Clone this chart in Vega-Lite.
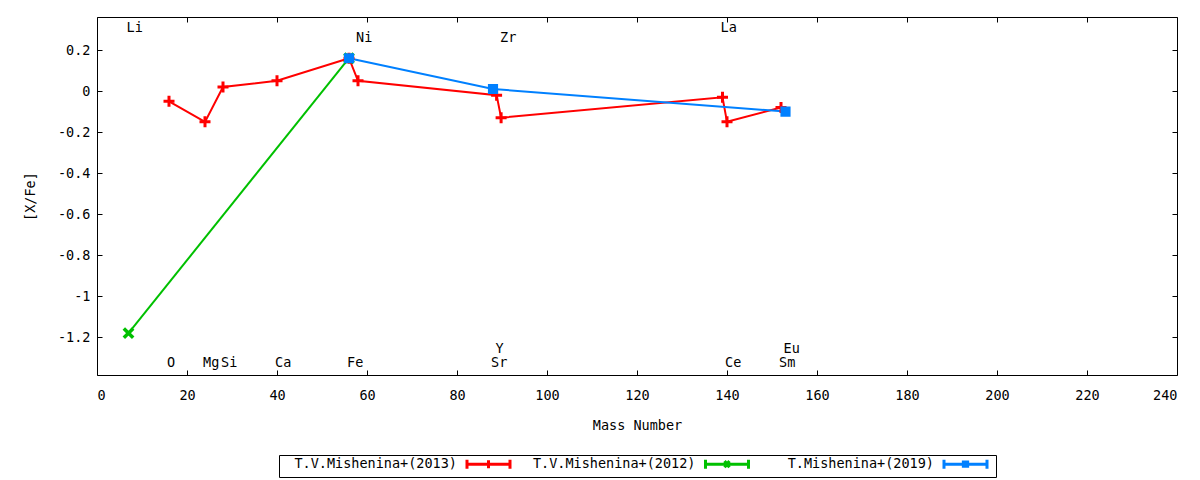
{
  "$schema": "https://vega.github.io/schema/vega-lite/v6.json",
  "width": 1080,
  "height": 358,
  "autosize": {"type": "none"},
  "padding": {"left": 97, "top": 17, "right": 23, "bottom": 105},
  "background": "white",
  "config": {
    "font": "DejaVu Sans Mono",
    "view": {"stroke": "black", "strokeWidth": 1},
    "axis": {
      "domain": false, "grid": false, "tickColor": "black", "tickSize": -5,
      "labelFont": "DejaVu Sans Mono", "labelFontSize": 13.5, "labelColor": "black",
      "titleFont": "DejaVu Sans Mono", "titleFontSize": 13.5, "titleFontWeight": "normal", "titleColor": "black"
    }
  },
  "datasets": {
    "series": [
      {"series": "T.V.Mishenina+(2013)", "el": "O", "x": 16, "y": -0.05},
      {"series": "T.V.Mishenina+(2013)", "el": "Mg", "x": 24, "y": -0.15},
      {"series": "T.V.Mishenina+(2013)", "el": "Si", "x": 28, "y": 0.02},
      {"series": "T.V.Mishenina+(2013)", "el": "Ca", "x": 40, "y": 0.05},
      {"series": "T.V.Mishenina+(2013)", "el": "Fe", "x": 56, "y": 0.16},
      {"series": "T.V.Mishenina+(2013)", "el": "Ni", "x": 58, "y": 0.05},
      {"series": "T.V.Mishenina+(2013)", "el": "Y", "x": 88.8, "y": -0.02},
      {"series": "T.V.Mishenina+(2013)", "el": "Zr", "x": 89.8, "y": -0.13},
      {"series": "T.V.Mishenina+(2013)", "el": "La", "x": 139, "y": -0.03},
      {"series": "T.V.Mishenina+(2013)", "el": "Ce", "x": 140, "y": -0.15},
      {"series": "T.V.Mishenina+(2013)", "el": "Eu", "x": 152, "y": -0.08},
      {"series": "T.V.Mishenina+(2012)", "el": "Li", "x": 7, "y": -1.18},
      {"series": "T.V.Mishenina+(2012)", "el": "Fe", "x": 56, "y": 0.16},
      {"series": "T.Mishenina+(2019)", "el": "Fe", "x": 56, "y": 0.16},
      {"series": "T.Mishenina+(2019)", "el": "Sr", "x": 88, "y": 0.01},
      {"series": "T.Mishenina+(2019)", "el": "Eu", "x": 153, "y": -0.1}
    ],
    "labels": [
      {"el": "Li", "x": 7, "y": 0.305},
      {"el": "La", "x": 139, "y": 0.305},
      {"el": "Ni", "x": 58, "y": 0.257},
      {"el": "Zr", "x": 90, "y": 0.257},
      {"el": "O", "x": 16, "y": -1.325},
      {"el": "Mg", "x": 24, "y": -1.325},
      {"el": "Si", "x": 28, "y": -1.325},
      {"el": "Ca", "x": 40, "y": -1.325},
      {"el": "Fe", "x": 56, "y": -1.325},
      {"el": "Sr", "x": 88, "y": -1.325},
      {"el": "Ce", "x": 140, "y": -1.325},
      {"el": "Sm", "x": 152, "y": -1.325},
      {"el": "Y", "x": 89, "y": -1.257},
      {"el": "Eu", "x": 153, "y": -1.257}
    ]
  },
  "layer": [
    {
      "data": {"name": "series"},
      "mark": {"type": "line", "strokeWidth": 2},
      "encoding": {
        "x": {
          "field": "x", "type": "quantitative",
          "scale": {"domain": [0, 240], "nice": false, "zero": false},
          "axis": {"orient": "bottom", "values": [0, 20, 40, 60, 80, 100, 120, 140, 160, 180, 200, 220, 240], "title": "Mass Number", "labelPadding": 18, "titlePadding": 17}
        },
        "y": {
          "field": "y", "type": "quantitative",
          "scale": {"domain": [-1.384, 0.361], "nice": false, "zero": false},
          "axis": {"orient": "left", "values": [-1.2, -1, -0.8, -0.6, -0.4, -0.2, 0, 0.2], "labelExpr": "'' + round(datum.value * 10) / 10", "title": "[X/Fe]", "labelPadding": 12, "titlePadding": 20}
        },
        "color": {
          "field": "series", "type": "nominal",
          "scale": {
            "domain": ["T.V.Mishenina+(2013)", "T.V.Mishenina+(2012)", "T.Mishenina+(2019)"],
            "range": ["#ff0000", "#00c000", "#0080ff"]
          },
          "legend": {
            "orient": "none", "legendX": 182, "legendY": 438, "direction": "horizontal", "title": null,
            "strokeColor": "black", "padding": 2, "columnPadding": 2.5,
            "labelFont": "DejaVu Sans Mono", "labelFontSize": 13.5, "labelColor": "black", "labelLimit": 300,
            "symbolSize": 115.6, "symbolStrokeWidth": 3,
            "encode": {
              "labels": {"update": {"x": {"value": 176}, "align": {"value": "right"}}},
              "symbols": {
                "update": {
                  "x": {"value": 207.5},
                  "size": {"value": 115.6},
                  "opacity": {"value": 1},
                  "fill": {"value": "transparent"},
                  "stroke": {"scale": "color", "field": "value"},
                  "strokeWidth": {"value": 3},
                  "shape": {"signal": "datum.value === 'T.Mishenina+(2019)' ? 'M-4,-0.85V0.85M-4,0H4M4,-0.85V0.85M-0.4,-0.4H0.4V0.4H-0.4Z' : datum.value === 'T.V.Mishenina+(2012)' ? 'M-4,-0.85V0.85M-4,0H4M4,-0.85V0.85M-0.45,-0.6L0.45,0.6M-0.45,0.6L0.45,-0.6' : 'M-4,-0.85V0.85M-4,0H4M4,-0.85V0.85M0,-0.75V0.75'"}
                }
              }
            }
          }
        }
      }
    },
    {
      "data": {"name": "series"},
      "transform": [{"filter": "datum.series === 'T.V.Mishenina+(2013)'"}],
      "mark": {"type": "point", "filled": true, "size": 121, "strokeWidth": 3, "opacity": 1, "shape": "M-1,0H1M0,-1V1", "fill": "#ff0000", "stroke": "#ff0000"},
      "encoding": {
        "x": {"field": "x", "type": "quantitative", "axis": {"orient": "top", "values": [0, 20, 40, 60, 80, 100, 120, 140, 160, 180, 200, 220, 240], "labels": false, "title": null}},
        "y": {"field": "y", "type": "quantitative", "axis": {"orient": "right", "values": [-1.2, -1, -0.8, -0.6, -0.4, -0.2, 0, 0.2], "labels": false, "title": null}}
      }
    },
    {
      "data": {"name": "series"},
      "transform": [{"filter": "datum.series === 'T.V.Mishenina+(2012)'"}],
      "mark": {"type": "point", "filled": true, "size": 121, "strokeWidth": 3.5, "opacity": 1, "shape": "M-0.85,-0.85L0.85,0.85M-0.85,0.85L0.85,-0.85", "fill": "#00c000", "stroke": "#00c000"},
      "encoding": {
        "x": {"field": "x", "type": "quantitative", "axis": null},
        "y": {"field": "y", "type": "quantitative", "axis": null}
      }
    },
    {
      "data": {"name": "series"},
      "transform": [{"filter": "datum.series === 'T.Mishenina+(2019)'"}],
      "mark": {"type": "point", "filled": true, "size": 121, "strokeWidth": 3, "opacity": 1, "shape": "M-0.65,-0.65H0.65V0.65H-0.65Z", "fill": "#0080ff", "stroke": "#0080ff"},
      "encoding": {
        "x": {"field": "x", "type": "quantitative", "axis": null},
        "y": {"field": "y", "type": "quantitative", "axis": null}
      }
    },
    {
      "data": {"name": "labels"},
      "mark": {"type": "text", "align": "left", "baseline": "middle", "dx": -2, "fontSize": 13.5, "font": "DejaVu Sans Mono", "color": "black"},
      "encoding": {
        "x": {"field": "x", "type": "quantitative", "axis": null},
        "y": {"field": "y", "type": "quantitative", "axis": null},
        "text": {"field": "el"}
      }
    }
  ],
  "resolve": {"axis": {"x": "independent", "y": "independent"}}
}
